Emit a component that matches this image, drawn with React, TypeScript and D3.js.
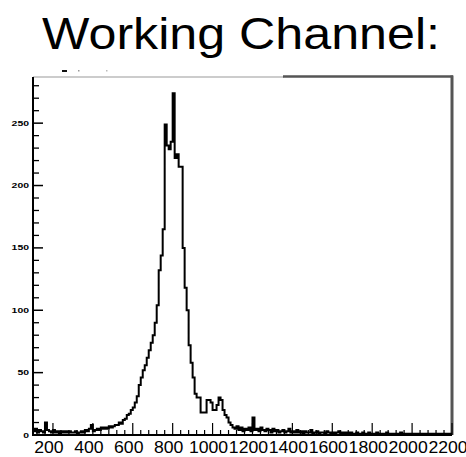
import React from "react";
import * as d3 from "d3";

const BIN_START = 100;
const BIN_WIDTH = 10;

// counts per 10-unit bin, 100..590
const countsLow = [
  3, 5, 2, 4, 3, 2, 10, 4, 3, 2,
  4, 2, 3, 1, 3, 2, 3, 2, 3, 2,
  2, 3, 1, 2, 3, 2, 4, 3, 5, 8,
  3, 4, 5, 4, 6, 5, 6, 5, 7, 6,
  7, 8, 8, 10, 9, 12, 13, 16, 17, 20,
];
// 600..1090
const countsPeak = [
  22, 26, 31, 40, 46, 52, 56, 62, 68, 74,
  80, 90, 104, 132, 144, 165, 249, 232, 229, 235,
  274, 222, 225, 215, 215, 150, 118, 100, 72, 58,
  46, 33, 30, 30, 18, 18, 18, 28, 28, 26,
  20, 20, 24, 30, 28, 20, 16, 14, 10, 8,
];
// 1100..2190
const countsTail = [
  6, 5, 7, 4, 6, 3, 5, 4, 6, 3,
  14, 4, 5, 3, 6, 4, 3, 5, 4, 2,
  5, 3, 4, 2, 3, 4, 2, 3, 5, 2,
  3, 2, 4, 2, 3, 1, 3, 2, 2, 4,
  1, 2, 3, 1, 2, 2, 1, 3, 2, 1,
  2, 1, 2, 3, 1, 2, 1, 2, 1, 2,
  1, 1, 2, 1, 0, 2, 1, 1, 2, 1,
  1, 0, 2, 1, 1, 0, 1, 2, 1, 0,
  1, 1, 0, 1, 2, 0, 1, 1, 0, 1,
  1, 0, 1, 0, 1, 1, 0, 1, 0, 1,
  0, 1, 0, 1, 0, 1, 0, 1, 0, 1,
];

const xTickLabels = [200, 400, 600, 800, 1000, 1200, 1400, 1600, 1800, 2000, 2200];
const yTickLabels = [0, 50, 100, 150, 200, 250];
const title = "Working Channel:";

const W = 466;
const H = 457;
const L = 33, R = 452, T = 77, B = 435;

export default function App() {
  const counts = [...countsLow, ...countsPeak, ...countsTail];
  const x = d3.scaleLinear().domain([100, 2200]).range([L, R]);
  const y = d3.scaleLinear().domain([0, 287]).range([B, T]);

  const pts: [number, number][] = counts.map((c, i) => [BIN_START + i * BIN_WIDTH, c]);
  pts.push([BIN_START + counts.length * BIN_WIDTH, counts[counts.length - 1]]);
  const line = d3
    .line<[number, number]>()
    .x((d) => x(d[0]))
    .y((d) => y(d[1]))
    .curve(d3.curveStepAfter);
  const path = line(pts) || "";

  const xMinor = d3.range(120, 2200.1, 40).filter((v) => v % 200 !== 0);
  const yMinor = d3.range(10, 287, 10).filter((v) => v % 50 !== 0);

  return (
    <svg
      width={W}
      height={H}
      style={{ position: "absolute", left: 0, top: 0, background: "#fff" }}
      fontFamily="'Liberation Sans', Arial, sans-serif"
    >
      <rect x={0} y={0} width={W} height={H} fill="#fff" />
      <text x={42} y={49} fontSize={45} textLength={398} lengthAdjust="spacingAndGlyphs" fill="#000">
        {title}
      </text>

      {/* stray marks above frame */}
      <rect x={62} y={70} width={5} height={2} fill="#111" />
      <rect x={78} y={70} width={1.5} height={1.5} fill="#999" />
      <rect x={106} y={70} width={1.5} height={1.5} fill="#bbb" />

      {/* frame */}
      <line x1={L} x2={284} y1={T} y2={T} stroke="#999" strokeWidth={1.2} />
      <line x1={283} x2={R + 1} y1={T - 0.5} y2={T - 0.5} stroke="#555" strokeWidth={2.5} />
      <line x1={R} x2={R} y1={T - 1.5} y2={B} stroke="#555" strokeWidth={3} />

      {/* histogram */}
      <path d={path} fill="none" stroke="#000" strokeWidth={2} />

      {/* y axis */}
      <line x1={L} x2={L} y1={T} y2={B + 1} stroke="#000" strokeWidth={2} />
      {yMinor.map((v) => (
        <line key={"ym" + v} x1={L} x2={L + 6} y1={y(v)} y2={y(v)} stroke="#000" strokeWidth={1.3} />
      ))}
      {yTickLabels.map((v) => (
        <g key={"y" + v}>
          <line x1={L} x2={L + 10} y1={y(v)} y2={y(v)} stroke="#000" strokeWidth={1.5} />
          <text
            x={29}
            y={y(v) + 2.5}
            fontSize={7}
            fontWeight="bold"
            textAnchor="end"
            textLength={String(v).length * 5.8}
            lengthAdjust="spacingAndGlyphs"
            fill="#000"
          >
            {v}
          </text>
        </g>
      ))}

      {/* x axis */}
      <line x1={L - 1} x2={R} y1={B} y2={B} stroke="#000" strokeWidth={2} />
      {xMinor.map((v) => (
        <line key={"xm" + v} x1={x(v)} x2={x(v)} y1={B} y2={B - 5} stroke="#000" strokeWidth={1.2} />
      ))}
      {xTickLabels.map((v) => (
        <g key={"x" + v}>
          <line x1={x(v)} x2={x(v)} y1={B} y2={B - 12} stroke="#000" strokeWidth={1.2} />
          <text
            x={x(v) - 4}
            y={453}
            fontSize={17}
            textAnchor="middle"
            textLength={String(v).length * 9.8}
            lengthAdjust="spacingAndGlyphs"
            fill="#000"
          >
            {v}
          </text>
        </g>
      ))}
    </svg>
  );
}
